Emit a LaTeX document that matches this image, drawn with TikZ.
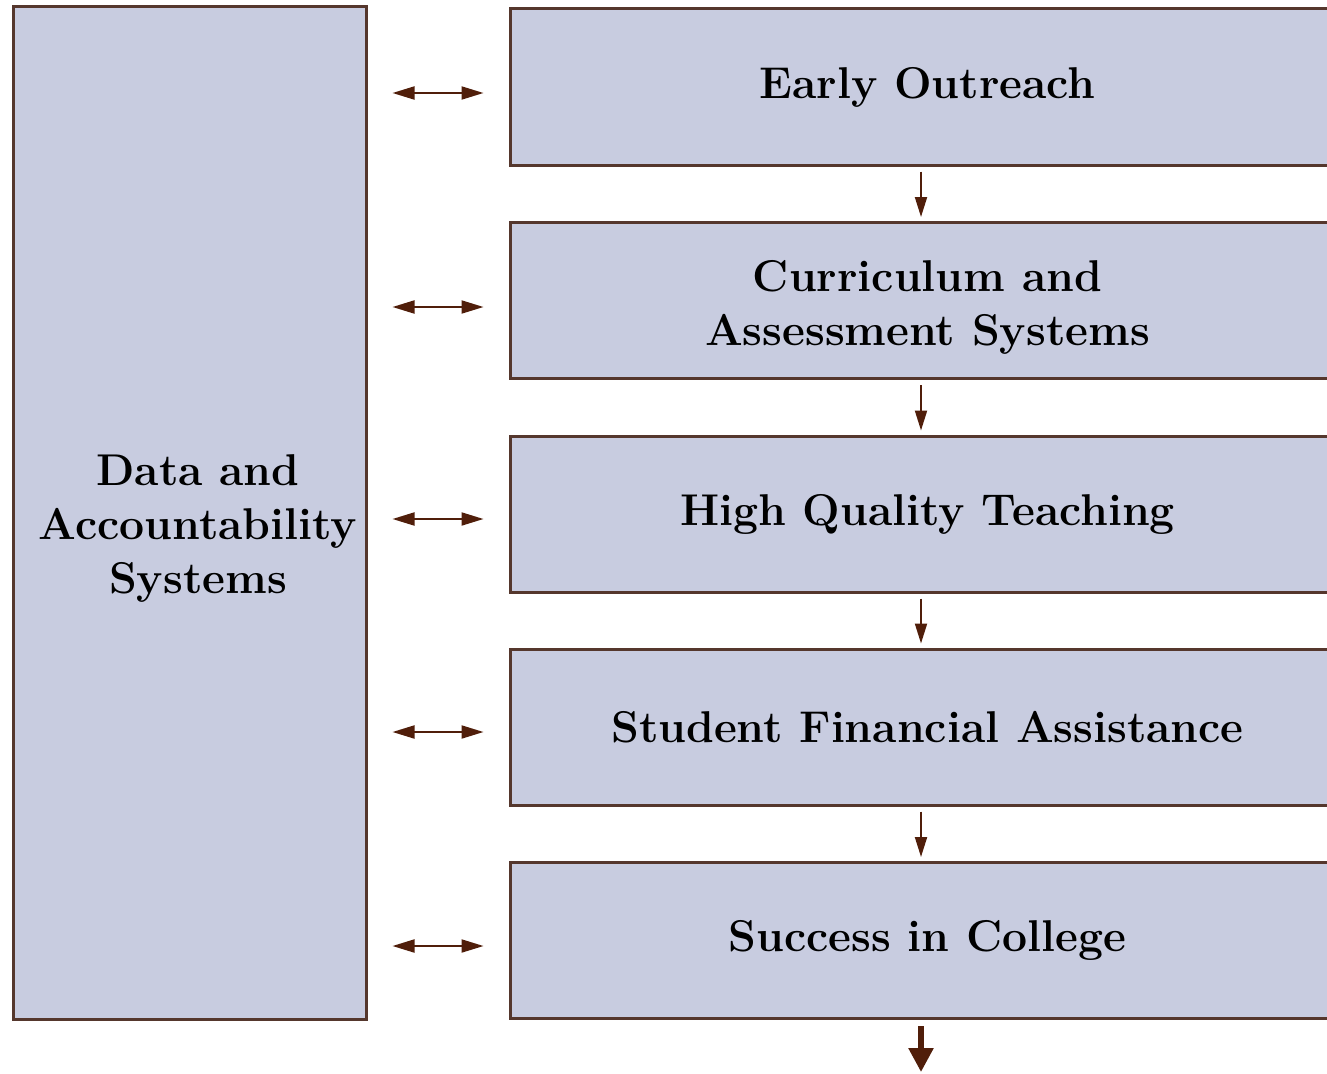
\documentclass[tikz,border=0pt]{standalone}
\usetikzlibrary{arrows.meta}
\definecolor{boxfill}{RGB}{200,204,224}
\definecolor{boxline}{RGB}{85,55,45}
\definecolor{arrowc}{RGB}{80,30,10}
\tikzset{
  txt/.style={align=center, inner sep=0pt, font=\fontsize{44.5}{54}\selectfont\bfseries},
  box/.style={txt, draw=boxline, line width=3pt, fill=boxfill},
  rbox/.style={box, minimum width=835pt, minimum height=156pt},
  link/.style={draw=arrowc, line width=2pt, {Triangle[length=22pt,width=13pt]}-{Triangle[length=22pt,width=13pt]}},
  flow/.style={draw=arrowc, line width=2pt, -{Triangle[length=20pt,width=12pt]}},
  final/.style={draw=arrowc, line width=5.5pt, -{Triangle[length=24pt,width=24pt]}}
}
\begin{document}
\begin{tikzpicture}[x=1pt,y=-1pt]
\useasboundingbox (0,0) rectangle (1327,1073);
\clip (0,0) rectangle (1327,1073);
\fill[white] (0,0) rectangle (1327,1073);
\node[box, minimum width=353pt, minimum height=1012pt] (L) at (189.5,513) {};
\node[txt] (Lt) at (198,529) {Data and\\Accountability\\Systems};
\node[rbox] (r1) at (927.5,87) {Early Outreach};
\node[rbox] (r2) at (927.5,300.5) {};
\node[txt] (r2t) at (927.5,307) {Curriculum and\\Assessment Systems};
\node[rbox] (r3) at (927.5,514) {High Quality Teaching};
\node[rbox] (r4) at (927.5,727) {Student Financial Assistance};
\node[rbox] (r5) at (927.5,940.5) {Success in College};
\foreach \i/\y in {1/93,2/307,3/519,4/732,5/946}{
  \draw[link, shorten <=25pt, shorten >=25pt] (L.east |- 0,\y) -- (r\i.west |- 0,\y);
}
\foreach \a/\b in {r1/r2,r2/r3,r3/r4,r4/r5}{
  \draw[flow, shorten <=5pt, shorten >=4pt] ([xshift=-6.5pt]\a.south) -- ([xshift=-6.5pt]\b.north);
}
\coordinate (end) at (921,1072);
\draw[final, shorten <=6pt] ([xshift=-6.5pt]r5.south) -- (end);
\end{tikzpicture}
\end{document}
